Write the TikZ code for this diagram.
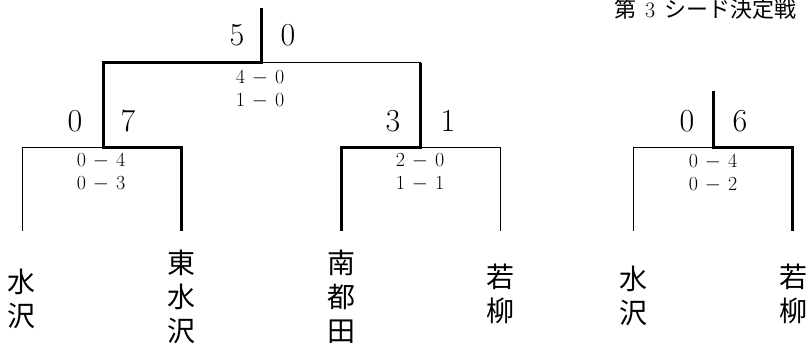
\documentclass[tikz,border=0pt]{standalone}
\usepackage{fontspec}
\newfontfamily\jp{Noto Sans CJK JP}
\newcommand{\scoredash}{\hspace{7pt}$-$\hspace{7pt}}
\begin{document}
\begin{tikzpicture}[x=1pt,y=-1pt,
  thinline/.style={line width=1pt, line join=miter},
  winline/.style={line width=3pt, line join=miter},
  bigscore/.style={font=\fontsize{32}{32}\selectfont, inner sep=0pt},
  smallscore/.style={font=\fontsize{20}{23}\selectfont, align=center, inner sep=0pt},
  team/.style={font=\jp\fontsize{28}{34}\selectfont, align=center, inner sep=0pt},
  title/.style={font=\jp\fontsize{22}{22}\selectfont, anchor=west, inner sep=0pt},
  ]
\useasboundingbox (0,0) rectangle (811,345);

% teams
\node[team] (t1) at (22,299) {水\\沢};
\node[team] (t2) at (181,297) {東\\水\\沢};
\node[team] (t3) at (341,297) {南\\都\\田};
\node[team] (t4) at (500,294) {若\\柳};
\node[team] (t5) at (633,296) {水\\沢};
\node[team] (t6) at (793,294) {若\\柳};

% leg ends
\coordinate (l1) at (22,231);
\coordinate (l2) at (181,231);
\coordinate (l3) at (341,231);
\coordinate (l4) at (500,231);
\coordinate (l5) at (633,231);
\coordinate (l6) at (792,231);

% junctions
\coordinate (jA) at (103,147);
\coordinate (jB) at (420,147);
\coordinate (jC) at (261,63);
\coordinate (top) at (261,8);
\coordinate (jD) at (713,147);
\coordinate (topD) at (713,91);

% left bracket, thin parts
\draw[thinline] (l1) |- (jA);
\draw[thinline] (jB) -| (l4);
\draw[thinline] (jC) -| (jB);
% winning paths
\draw[winline] (top) -- (jC) -| (jA) -| (l2);
\draw[winline] (jB |- jC) -- (jB) -| (l3);

% right bracket
\draw[thinline] (l5) |- (jD);
\draw[winline] (topD) -- (jD) -| (l6);

% big scores
\node[bigscore] (s1) at (237,35) {5};
\node[bigscore] (s2) at (288,35) {0};
\node[bigscore] (s3) at (75,121) {0};
\node[bigscore] (s4) at (128,121) {7};
\node[bigscore] (s5) at (393,121) {3};
\node[bigscore] (s6) at (448,121) {1};
\node[bigscore] (s7) at (687,121) {0};
\node[bigscore] (s8) at (740,121) {6};

% small scores
\node[smallscore] (m1) at (260,89) {4\scoredash 0\\1\scoredash 0};
\node[smallscore] (m2) at (101,172) {0\scoredash 4\\0\scoredash 3};
\node[smallscore] (m3) at (420,172) {2\scoredash 0\\1\scoredash 1};
\node[smallscore] (m4) at (713,173) {0\scoredash 4\\0\scoredash 2};

% title
\node[title] (ttl) at (614,9) {第\hspace{9pt}{\rmfamily 3}\hspace{9pt}シード決定戦};
\end{tikzpicture}
\end{document}
